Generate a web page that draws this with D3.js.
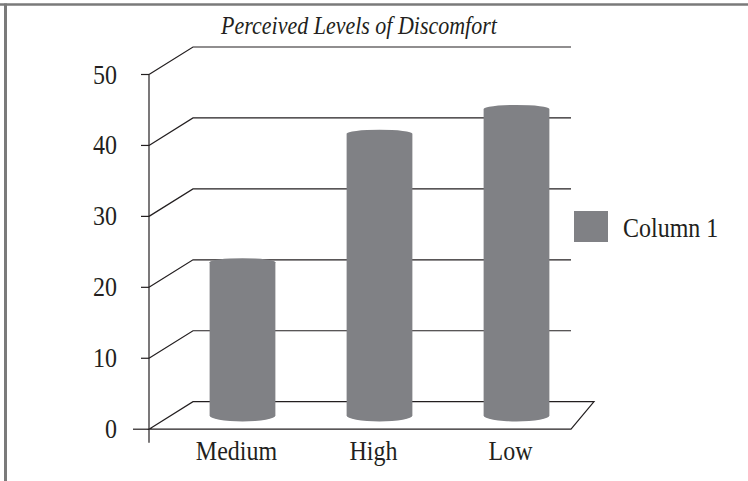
<!DOCTYPE html>
<html>
<head>
<meta charset="utf-8">
<script src="https://cdn.jsdelivr.net/npm/d3@7"></script>
<style>
  html, body { margin: 0; padding: 0; background: #fff; }
  svg { display: block; }
  text { font-family: "Liberation Serif", "Times New Roman", serif; fill: #231f20; }
</style>
</head>
<body>
<svg id="chart" width="748" height="481"></svg>
<script>
// ---- data ----
const categories = ["Medium", "High", "Low"];
const values = [21.6, 39.7, 43.2];
const seriesName = "Column 1";
const yTicks = [0, 10, 20, 30, 40, 50];
const title = "Perceived Levels of Discomfort";

// ---- layout ----
const W = 748, H = 481;
const svg = d3.select("#chart");
const ink = "#231f20";
const barColor = "#808185";
const stretch = 1.12;                       // glyphs in the reference are slightly tall

const depthX = 44, depthY = 27.5;          // 3-D offset front -> back wall
const axisX = 149;                          // front vertical axis
const wallRight = 571;                      // right end of back-wall grid
const floorBackRight = 594;                 // right end of floor back edge

const yBack = d3.scaleLinear().domain([0, 50]).range([401.7, 47]);
const yFront = v => yBack(v) + depthY;
const yMid = v => yBack(v) + depthY / 2;

const x = d3.scaleBand().domain(categories).range([152, 563]).padding(0);

const tr = (px, py) => `translate(${px},${py}) scale(1,${stretch})`;

// frame (top + left rules)
svg.append("line").attr("x1", 0).attr("x2", W).attr("y1", 4.5).attr("y2", 4.5)
  .attr("stroke", "#7a7a7a").attr("stroke-width", 2.5);
svg.append("line").attr("x1", 5.5).attr("x2", 5.5).attr("y1", 3.5).attr("y2", H)
  .attr("stroke", "#7a7a7a").attr("stroke-width", 3);

// title
svg.append("text").attr("transform", tr(359, 34)).attr("text-anchor", "middle")
  .attr("font-style", "italic").attr("font-size", 22).text(title);

const g = svg.append("g").attr("stroke", ink).attr("stroke-width", 1.2).attr("fill", "none");

// floor
const floorPts = [
  [axisX, yFront(0)], [axisX + depthX, yBack(0)],
  [floorBackRight, yBack(0)], [wallRight, yFront(0)]
];
g.append("path").attr("d", d3.line()(floorPts) + "Z");
g.append("line").attr("x1", axisX - 16).attr("x2", axisX)
  .attr("y1", yFront(0)).attr("y2", yFront(0));

// gridlines (side diagonal + back wall horizontal) and ticks
yTicks.filter(v => v > 0).forEach(v => {
  g.append("path").attr("d", d3.line()([
    [axisX, yFront(v)], [axisX + depthX, yBack(v)], [wallRight, yBack(v)]
  ]));
  g.append("line").attr("x1", axisX - 8).attr("x2", axisX)
    .attr("y1", yFront(v)).attr("y2", yFront(v));
});

// vertical axis
g.append("line").attr("x1", axisX).attr("x2", axisX)
  .attr("y1", yFront(50)).attr("y2", yFront(0) + 13.5);

// y tick labels
svg.append("g").selectAll("text").data(yTicks).join("text")
  .attr("transform", d => tr(117, yFront(d) + 9))
  .attr("text-anchor", "end").attr("font-size", 24)
  .text(d => d);

// bars (cylinders at mid depth)
const bw = x.bandwidth() * 0.48;
const rTop = 4, rBot = 6;
function cyl(cat, v) {
  const cx = x(cat) + x.bandwidth() / 2 + depthX / 2;
  const hw = bw / 2;
  const t = yMid(v), b = yMid(0);
  return `M${cx - hw},${t} A${hw},${rTop} 0 0 1 ${cx + hw},${t} L${cx + hw},${b} A${hw},${rBot} 0 0 1 ${cx - hw},${b} Z`;
}
svg.append("g").selectAll("path").data(categories).join("path")
  .attr("d", (c, i) => cyl(c, values[i]))
  .attr("fill", barColor);

// category labels
svg.append("g").selectAll("text").data(categories).join("text")
  .attr("transform", c => tr(x(c) + x.bandwidth() / 2 + 16, 460))
  .attr("text-anchor", "middle").attr("font-size", 24)
  .text(c => c);

// legend
svg.append("rect").attr("x", 574).attr("y", 211).attr("width", 34).attr("height", 31)
  .attr("fill", barColor);
svg.append("text").attr("transform", tr(623, 237)).attr("font-size", 24).text(seriesName);
</script>
</body>
</html>
